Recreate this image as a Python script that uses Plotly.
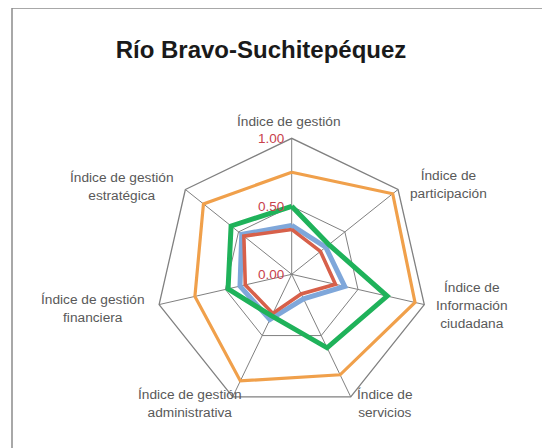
import plotly.graph_objects as go

# ejes del radar (en sentido horario desde arriba)
categorias = [
    "Índice de gestión",
    "Índice de<br>participación",
    "Índice de<br>Información<br>ciudadana",
    "Índice de<br>servicios",
    "Índice de gestión<br>administrativa",
    "Índice de gestión<br>financiera",
    "Índice de gestión<br>estratégica",
]

serie_naranja = [0.75, 0.95, 0.93, 0.82, 0.87, 0.73, 0.83]
serie_azul = [0.36, 0.32, 0.40, 0.20, 0.37, 0.39, 0.47]
serie_roja = [0.33, 0.27, 0.33, 0.16, 0.32, 0.35, 0.45]
serie_verde = [0.50, 0.35, 0.72, 0.60, 0.34, 0.48, 0.57]

radial_ticks = [0, 0.5, 1.0]

# la página tiene 8px de margen en el body
OFF = 8
W, H = 550 - OFF, 448 - OFF
cx, cy, R = 291.7 - OFF, 274.3 - OFF, 136

# posición (px de página) del centro de cada etiqueta de eje
pos_etiquetas = [(289, 121), (448, 184), (472, 305), (385, 403),
                 (190, 403), (93, 308), (122, 186)]


def cerrar(vals):
    # repetir el primer punto para cerrar el polígono
    return list(vals) + [vals[0]]


def px_x(x):
    return (x - OFF) / W


def px_y(y):
    return 1 - (y - OFF) / H


fig = go.Figure()

series = [
    ("Serie 1", serie_naranja, "#F0A04B", 3.2),
    ("Serie 2", serie_azul, "#7FA7DA", 5),
    ("Serie 3", serie_roja, "#D7604A", 3.6),
    ("Serie 4", serie_verde, "#1FB25A", 5),
]
for nombre, vals, color, ancho in series:
    fig.add_trace(go.Scatterpolar(
        r=cerrar(vals),
        theta=cerrar(categorias),
        mode="lines",
        name=nombre,
        line=dict(color=color, width=ancho),
    ))

anotaciones = []
for texto, (x, y) in zip(categorias, pos_etiquetas):
    anotaciones.append(dict(
        text=texto,
        x=px_x(x),
        y=px_y(y),
        xref="paper",
        yref="paper",
        xanchor="center",
        yanchor="middle",
        align="center",
        showarrow=False,
        font=dict(size=13.7, color="#595959"),
    ))

# etiquetas del eje radial, a la izquierda del eje vertical
for v in radial_ticks:
    anotaciones.append(dict(
        text=f"{v:.2f}",
        x=(cx - 6) / W,
        y=1 - (cy - v * R) / H,
        xref="paper",
        yref="paper",
        xanchor="right",
        yanchor="middle",
        showarrow=False,
        font=dict(size=13.5, color="#C8414B"),
    ))

fig.update_layout(
    width=W,
    height=H,
    margin=dict(l=0, r=0, t=0, b=0),
    paper_bgcolor="white",
    plot_bgcolor="white",
    showlegend=False,
    font=dict(family="Liberation Sans, Arial, sans-serif", size=12, color="#595959"),
    title=dict(
        text="<b>Río Bravo-Suchitepéquez</b>",
        x=px_x(261),
        xanchor="center",
        y=px_y(50),
        yanchor="middle",
        yref="container",
        font=dict(family="Liberation Sans, Arial, sans-serif", size=24, color="#1a1a1a"),
    ),
    polar=dict(
        domain=dict(
            x=[(cx - R) / W, (cx + R) / W],
            y=[(H - cy - R) / H, (H - cy + R) / H],
        ),
        bgcolor="white",
        gridshape="linear",
        radialaxis=dict(
            range=[0, 1],
            tickvals=radial_ticks,
            showticklabels=False,
            angle=90,
            showline=False,
            ticks="",
            gridcolor="#808080",
            gridwidth=1.3,
        ),
        angularaxis=dict(
            direction="clockwise",
            rotation=90,
            showline=True,
            linecolor="#808080",
            linewidth=1.3,
            gridcolor="#808080",
            gridwidth=1.3,
            ticks="",
            showticklabels=False,
        ),
    ),
    annotations=anotaciones,
    shapes=[dict(
        type="rect",
        xref="paper",
        yref="paper",
        x0=px_x(12),
        x1=1.2,
        y0=-0.2,
        y1=1.0,
        line=dict(color="#8c8c8c", width=1.5),
    )],
)

fig.write_html("out.html")
